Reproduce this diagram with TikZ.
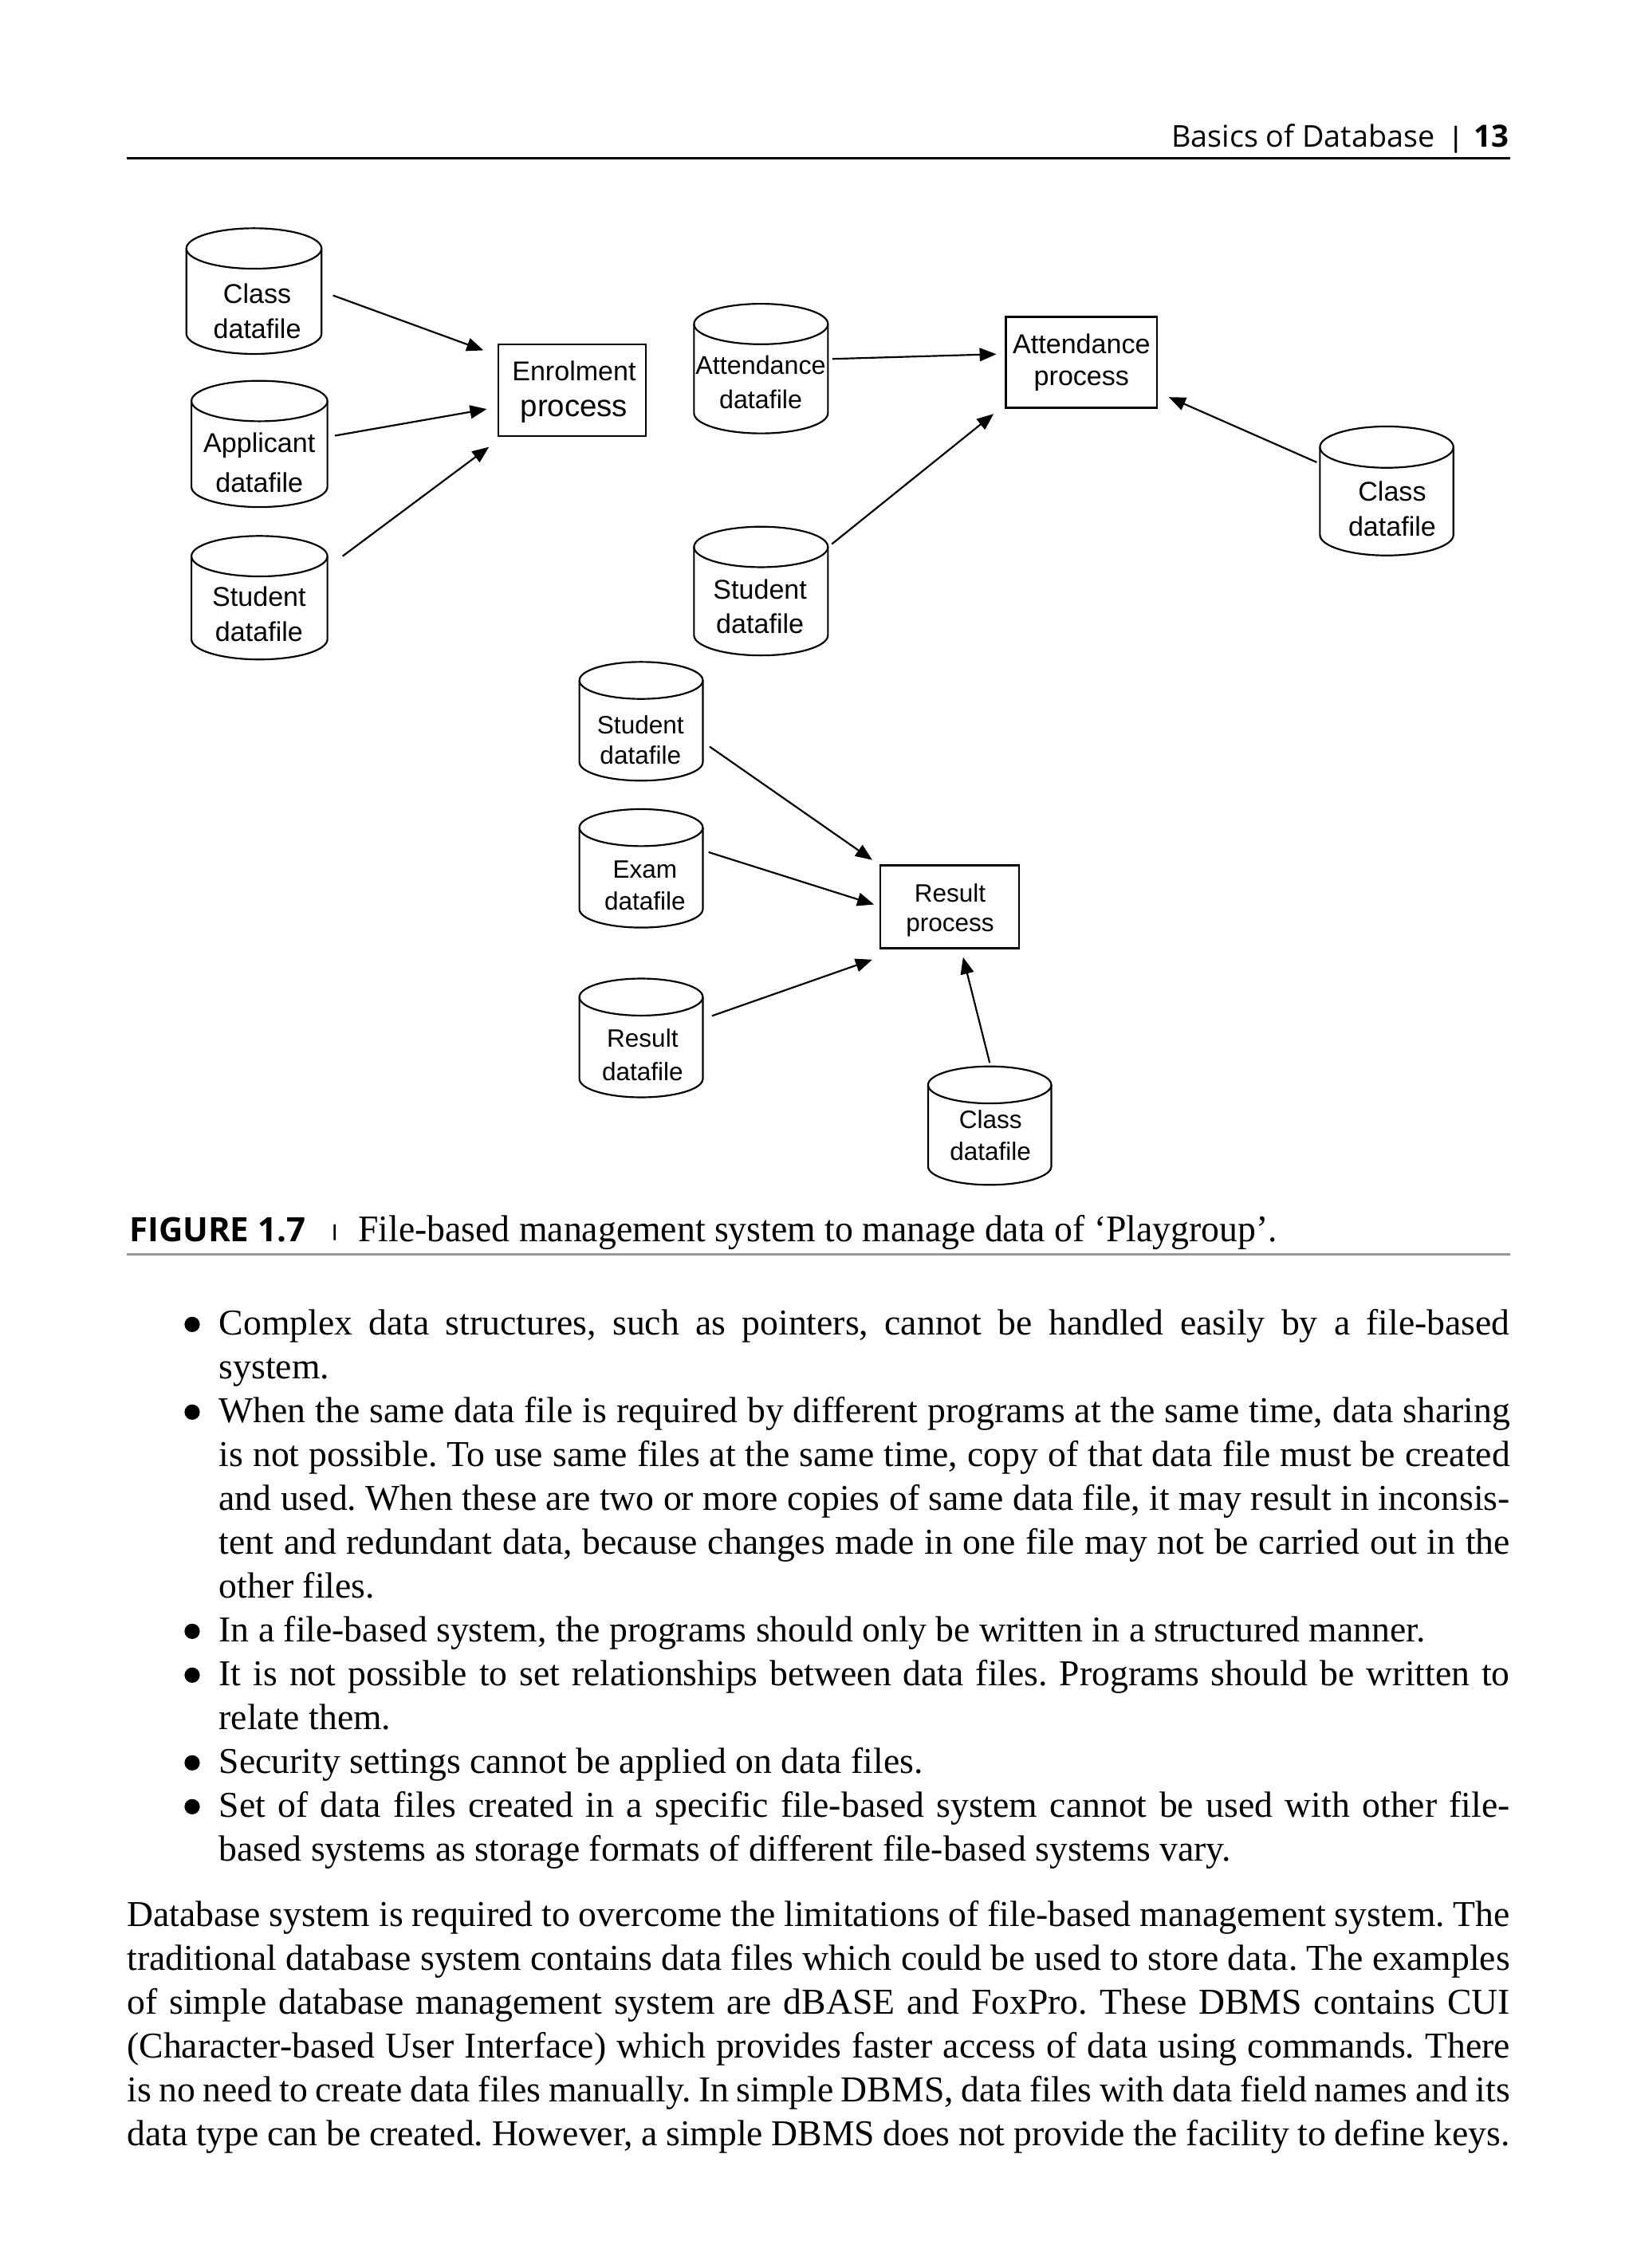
\documentclass[tikz,border=0pt]{standalone}
\usepackage{fontspec}
\setmainfont{Liberation Serif}
\newfontfamily\diagfont{Liberation Sans}
\newfontfamily\headfont{Open Sans}
\newfontfamily\capserif[FakeStretch=0.97]{Liberation Serif}
\usetikzlibrary{arrows.meta}
\frenchspacing

\tikzset{
  cylline/.style={line width=0.6pt},
  cylnode/.style={rectangle, inner sep=0pt, outer sep=0pt, draw=none},
  procbox/.style={rectangle, draw, line width=0.65pt, inner sep=0pt, outer sep=0pt},
  arr/.style={line width=0.6pt, -{Triangle[length=5.8pt,width=4.6pt]}},
  dlbl/.style={font=\diagfont, anchor=base, inner sep=0pt, outer sep=0pt},
  bodyl/.style={anchor=base west, inner sep=0pt, outer sep=0pt, font=\frenchspacing\fontsize{12.6}{15.2}\selectfont},
  rulel/.style={line width=0.6pt},
}

% cylinder: name, left, top, right, bottom, ry   (display px units)
\newcommand\dbcyl[6]{%
  \pgfmathsetmacro\cylcx{(#2+#4)/2}%
  \pgfmathsetmacro\cylcy{(#3+#5)/2}%
  \pgfmathsetmacro\cylrxpt{(#4-#2)/4}%
  \pgfmathsetmacro\cylrypt{#6/2}%
  \pgfmathsetmacro\cylw{(#4-#2)/2}%
  \pgfmathsetmacro\cylh{(#5-#3)/2}%
  \node[cylnode, minimum width=\cylw pt, minimum height=\cylh pt] (#1) at (\cylcx,\cylcy) {};
  \draw[cylline] (#2,#3+#6) -- (#2,#5-#6)
     arc[start angle=180, end angle=360, x radius=\cylrxpt pt, y radius=\cylrypt pt]
     -- (#4,#3+#6);
  \draw[cylline] (\cylcx,#3+#6) ellipse[x radius=\cylrxpt pt, y radius=\cylrypt pt];
}
% process box: name, left, top, right, bottom
\newcommand\pbox[5]{%
  \pgfmathsetmacro\pbw{(#4-#2)/2}%
  \pgfmathsetmacro\pbh{(#5-#3)/2}%
  \node[procbox, minimum width=\pbw pt, minimum height=\pbh pt] (#1) at ({(#2+#4)/2},{(#3+#5)/2}) {};
}
% label: name, x, first baseline y, size, skip, text
\newcommand\dlab[6]{%
  \node[dlbl] (#1) at (#2,#3) {\fontsize{#4}{#5}\selectfont\begin{tabular}[t]{@{}c@{}}#6\end{tabular}};
}

\begin{document}
\begin{tikzpicture}[x=0.5pt,y=-0.5pt]
\useasboundingbox (0,0) rectangle (1130,1570);

% ---------- running head ----------
\node[anchor=base east, inner sep=0pt, font=\headfont\fontsize{10.4}{12}\selectfont] (hd) at (993.3,102) {Basics of Database};
\node[anchor=base, inner sep=0pt, font=\diagfont\fontsize{10}{12}\selectfont] (hdbar) at (1007.5,102) {|};
\node[anchor=base east, inner sep=0pt, font=\headfont\bfseries\fontsize{10.6}{12}\selectfont] (hdno) at (1044.5,102) {13};
\draw[rulel] (88,109.5) -- (1045,109.5);

% ---------- enrolment group ----------
\dbcyl{cA}{129}{158}{222.5}{245}{14}
\dbcyl{cB}{132.5}{263.6}{226.6}{351}{14}
\dbcyl{cC}{132.5}{371}{226.6}{456.5}{14}
\pbox{pE}{344.8}{238.5}{447.1}{301.8}
\dlab{cAt}{178}{209.7}{9.4}{12.15}{Class\\datafile}
\dlab{cBt}{179.5}{313.2}{9.4}{13.75}{Applicant\\datafile}
\dlab{cCt}{179.3}{419.9}{9.4}{12.15}{Student\\datafile}
\dlab{pEt}{397.3}{263.6}{9.4}{12.35}{Enrolment\\{\fontsize{10.6}{12.35}\selectfont process}}

\draw[arr] ([shift={(8,3)}]cA.east) -- ([shift={(-10.2,4)}]pE.north west);
\draw[arr] ([shift={(5.1,-5.7)}]cB.east) -- ([shift={(-7.9,13)}]pE.west);
\draw[arr] ([shift={(10.5,14)}]cC.north east) -- ([shift={(-6.4,7.6)}]pE.south west);

% ---------- attendance group ----------
\dbcyl{cD}{480.3}{210.3}{573}{300}{14}
\dbcyl{cF}{480.3}{364.6}{573}{453.7}{14}
\dbcyl{cE}{913.5}{295.2}{1005.9}{384.5}{14.3}
\pbox{pA}{696.2}{219.4}{800.8}{282.3}
\dlab{cDt}{526.5}{259}{8.9}{12}{Attendance\\datafile}
\dlab{cFt}{526}{414.6}{9.4}{11.85}{Student\\datafile}
\dlab{cEt}{963.5}{346.7}{9.4}{12.2}{Class\\datafile}
\dlab{pAt}{748.5}{244.6}{9.4}{11.05}{Attendance\\process}

\draw[arr] ([shift={(3.1,-6.7)}]cD.east) -- ([shift={(-6.6,-5.7)}]pA.west);
\draw[arr] ([shift={(2.7,12)}]cF.north east) -- ([shift={(-8.5,4.2)}]pA.south west);
\draw[arr] ([shift={(-2.2,24.8)}]cE.north west) -- ([shift={(8.1,-7.4)}]pA.south east);

% ---------- result group ----------
\dbcyl{cG}{401}{458.2}{486.4}{540.4}{12.8}
\dbcyl{cH}{401}{560.1}{486.4}{642.1}{12.8}
\dbcyl{cI}{401}{677.4}{486.4}{759.6}{12.8}
\dbcyl{cJ}{642.3}{738.2}{727.6}{820.2}{12.8}
\pbox{pR}{609.3}{599}{705.4}{656.4}
\dlab{cGt}{443.3}{507.9}{8.7}{10.45}{Student\\datafile}
\dlab{cHt}{446.4}{607.7}{8.7}{11.05}{Exam\\datafile}
\dlab{cIt}{444.7}{724.6}{8.7}{11.7}{Result\\datafile}
\dlab{cJt}{685.5}{781.3}{8.7}{10.85}{Class\\datafile}
\dlab{pRt}{657.5}{624.2}{8.7}{10.2}{Result\\process}

\draw[arr] ([shift={(4.7,17.5)}]cG.east) -- ([shift={(-5.6,-3.7)}]pR.north west);
\draw[arr] ([shift={(4,-11.2)}]cH.east) -- ([shift={(-4.4,-1.6)}]pR.west);
\draw[arr] ([shift={(6.4,-15.3)}]cI.east) -- ([shift={(-5.6,7.9)}]pR.south west);
\draw[arr] ([shift={(0,-2.5)}]cJ.north) -- ([shift={(9.2,6.2)}]pR.south);

% ---------- caption ----------
\node[anchor=base west, inner sep=0pt, font=\headfont\bfseries\fontsize{11.6}{13}\selectfont] (figno) at (89,859.3) {FIGURE 1.7};
\node[anchor=south, inner sep=0pt, font=\diagfont\bfseries\fontsize{5.8}{7}\selectfont] (capbar) at (231.7,859.4) {|};
\node[anchor=base west, inner sep=0pt, font=\capserif\fontsize{13}{15}\selectfont] (captxt) at (247.6,859.3) {File-based management system to manage data of ‘Playgroup’.};
\draw[line width=0.9pt, black!40] (88,868.5) -- (1045,868.5);

% ---------- bullet list ----------
\foreach \by in {916.8,977.5,1129.25,1159.6,1220.3,1250.65}{\fill (133,\by) circle[radius=5.3];}
\node[bodyl] (b1) at (151.6,924.2) {\hbox to 446.7pt{Complex data structures, such as pointers, cannot be handled easily by a file-based}};
\node[bodyl] (b2) at (151.6,954.55) {system.};
\node[bodyl] (b3) at (151.6,984.9) {\hbox to 446.7pt{When the same data file is required by different programs at the same time, data sharing}};
\node[bodyl] (b4) at (151.6,1015.25) {\hbox to 446.7pt{is not possible. To use same files at the same time, copy of that data file must be created}};
\node[bodyl] (b5) at (151.6,1045.6) {\hbox to 446.7pt{and used. When these are two or more copies of same data file, it may result in inconsis-}};
\node[bodyl] (b6) at (151.6,1075.95) {\hbox to 446.7pt{tent and redundant data, because changes made in one file may not be carried out in the}};
\node[bodyl] (b7) at (151.6,1106.3) {other files.};
\node[bodyl] (b8) at (151.6,1136.65) {In a file-based system, the programs should only be written in a structured manner.};
\node[bodyl] (b9) at (151.6,1167.0) {\hbox to 446.7pt{It is not possible to set relationships between data files. Programs should be written to}};
\node[bodyl] (b10) at (151.6,1197.35) {relate them.};
\node[bodyl] (b11) at (151.6,1227.7) {Security settings cannot be applied on data files.};
\node[bodyl] (b12) at (151.6,1258.05) {\hbox to 446.7pt{Set of data files created in a specific file-based system cannot be used with other file-}};
\node[bodyl] (b13) at (151.6,1288.4) {based systems as storage formats of different file-based systems vary.};

% ---------- paragraph ----------
\node[bodyl] (p1) at (88,1333.6) {\hbox to 478.5pt{Database system is required to overcome the limitations of file-based management system. The}};
\node[bodyl] (p2) at (88,1363.95) {\hbox to 478.5pt{traditional database system contains data files which could be used to store data. The examples}};
\node[bodyl] (p3) at (88,1394.3) {\hbox to 478.5pt{of simple database management system are dBASE and FoxPro. These DBMS contains CUI}};
\node[bodyl] (p4) at (88,1424.65) {\hbox to 478.5pt{(Character-based User Interface) which provides faster access of data using commands. There}};
\node[bodyl] (p5) at (88,1455.0) {\hbox to 478.5pt{is no need to create data files manually. In simple DBMS, data files with data field names and its}};
\node[bodyl] (p6) at (88,1485.35) {\hbox to 478.5pt{data type can be created. However, a simple DBMS does not provide the facility to define keys.}};

\end{tikzpicture}
\end{document}
